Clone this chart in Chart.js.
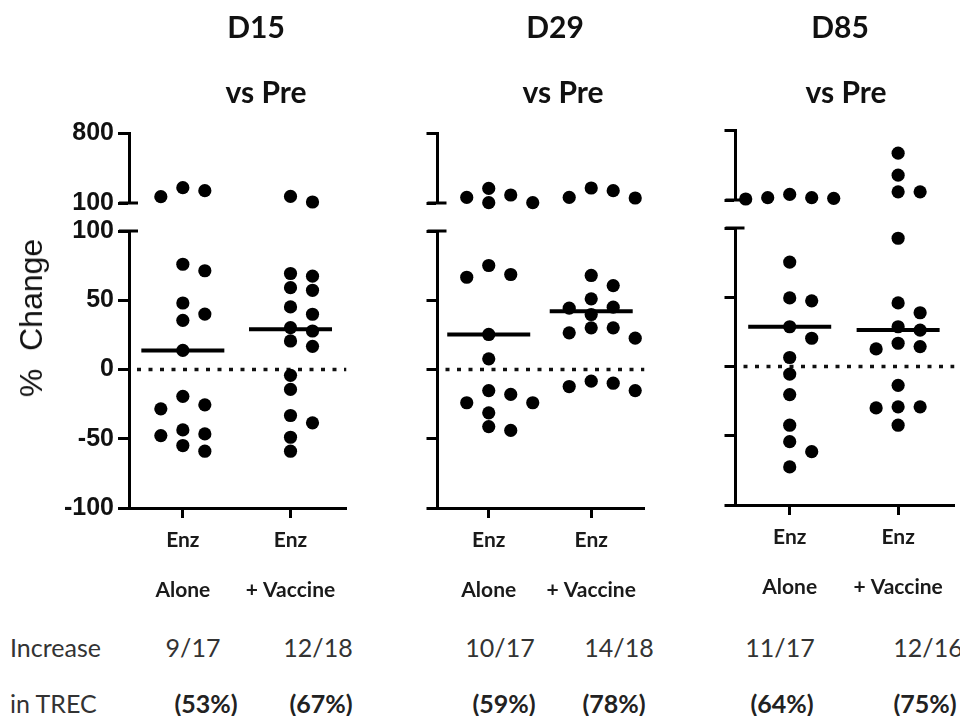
<!DOCTYPE html>
<html>
<head>
<meta charset="utf-8">
<script src="https://cdn.jsdelivr.net/npm/chart.js@4.4.1/dist/chart.umd.min.js"></script>
<style>
html,body{margin:0;padding:0;background:#fff;overflow:hidden;width:960px;height:716px;}
#wrap{position:relative;width:960px;height:716px;overflow:hidden;}
canvas.cv{position:absolute;}
.t{position:absolute;transform:translate(-50%,-50%);white-space:nowrap;font-family:Lato,'Open Sans',sans-serif;line-height:1;}
.title{font-weight:bold;font-size:30px;color:#111;}
.row{font-size:25px;color:#333;}
.rowb{font-size:25px;color:#222;font-weight:bold;}
.lab{position:absolute;white-space:nowrap;font-family:Lato,'Open Sans',sans-serif;font-size:25px;color:#333;transform:translateY(-50%);line-height:1;}
.ytitle{position:absolute;white-space:pre;font-family:'Liberation Sans',Arial,sans-serif;font-size:32px;color:#111;transform:translate(-50%,-50%) rotate(-90deg);line-height:1;}
</style>
</head>
<body>
<div id="wrap"></div>
<script>
// ---------------- data ----------------
const panels = ['D15', 'D29', 'D85'];
const panelSubtitle = 'vs Pre';
const groupLabels = [['Enz', 'Alone'], ['Enz', '+ Vaccine']];
const yAxisTitle = '%  Change';

const d15Alone   = [253, 223, 163, 76, 71.3, 48, 40, 35.5, 13.8, -19.4, -25.5, -28.4, -43.6, -46.5, -47.7, -54.9, -59];
const d15Vaccine = [166, 110, 69.3, 67.4, 59.1, 57.2, 45.2, 39.9, 30.2, 27.8, 20.6, 16.7, -4.2, -14.4, -33.2, -38.5, -48.9, -59];
const d29Alone   = [246, 180, 156, 103, 103, 75.1, 68.6, 66.6, 25.3, 7.7, -15.2, -18, -24, -24, -31.3, -41.2, -44];
const d29Vaccine = [250, 223, 156, 150, 67.9, 60.6, 51, 45, 44.3, 39.7, 30.1, 30.1, 26.5, 22.6, -8.4, -9.9, -12.3, -15.2];
const d85Alone   = [156, 123, 123, 117, 110, 75.4, 49.5, 47.4, 28.7, 20.4, 6.5, -5.5, -20.3, -42.4, -54.3, -61.5, -72.5];
const d85Vaccine = [568, 348, 182, 182, 92.6, 45.9, 38.8, 28.7, 26.3, 16.8, 14.4, 12.7, -13.6, -29.1, -29.9, -29.1, -42.4];

const d15Medians = [13.8, 29.0];
const d29Medians = [25.3, 42.0];
const d85Medians = [28.7, 26.3];

const lowerTicks = [-100, -50, 0, 50, 100];
const upperTicks = [100, 800];
const breakValue = 100;
const zeroValue = 0;

const increaseLabel = ['Increase', 'in TREC'];
const increaseCounts = ['9/17', '12/18', '10/17', '14/18', '11/17', '12/16'];
const increasePct = ['(53%)', '(67%)', '(59%)', '(78%)', '(64%)', '(75%)'];

const panelGroups = [[d15Alone, d15Vaccine], [d29Alone, d29Vaccine], [d85Alone, d85Vaccine]];
const panelMedians = [d15Medians, d29Medians, d85Medians];

// ---------------- layout ----------------
const GEO = [
  {left: 0,   top: 0,  width: 392, axisX: 129, padRight: 10.5, labels: true},
  {left: 392, top: 0,  width: 298, axisX: 425, padRight: 12.5, labels: false},
  {left: 690, top: -3, width: 310, axisX: 719, padRight: 28.5, labels: false}
];
const CANVAS_H = 620, AREA_TOP = 133, XAXIS_H = 112;
const X_MIN = 0.5, X_MAX = 2.52;
const DOT_R = 6.6, LANE_PX = 22, DOT_GAP = 12.5;
const LANE_ORDER = [0, 1, -1, 2, -2, 3, -3, 4, -4];
const titlePos = [[256, 26, 266, 91], [555, 26, 563, 91], [840, 26, 846, 91]];
const countX = [193, 318, 500, 619, 780, 928];
const pctX = [206, 321, 504, 614, 782, 925];

Chart.defaults.font.family = "'Liberation Sans', Arial, sans-serif";
Chart.defaults.color = '#111';

const wrap = document.getElementById('wrap');

const breakCaps = {
  id: 'breakCaps',
  afterDraw(chart) {
    const ctx = chart.ctx, a = chart.chartArea;
    const ys = [chart.scales.yTop.getPixelForValue(breakValue), chart.scales.y.getPixelForValue(chart.scales.y.max)];
    ctx.save();
    ctx.strokeStyle = '#000';
    ctx.lineWidth = 3;
    ys.forEach(py => {
      ctx.beginPath();
      ctx.moveTo(a.left - 10, py);
      ctx.lineTo(a.left + 9, py);
      ctx.stroke();
    });
    ctx.restore();
  }
};

function yScale(geo, extra) {
  return Object.assign({
    type: 'linear',
    position: 'left',
    stack: 'broken',
    afterFit: s => { s.width = geo.axisX - geo.left; },
    grid: {drawOnChartArea: false, drawTicks: true, tickLength: 11, tickWidth: 3, tickColor: '#000'},
    border: {display: true, color: '#000', width: 3},
    ticks: {display: geo.labels, color: '#111', padding: 4, font: {size: 25, weight: 'bold'}, callback: v => String(v)}
  }, extra);
}

function makePanel(p) {
  const geo = GEO[p];
  const canvas = document.createElement('canvas');
  canvas.className = 'cv';
  canvas.width = geo.width;
  canvas.height = CANVAS_H;
  canvas.style.left = geo.left + 'px';
  canvas.style.top = geo.top + 'px';
  canvas.style.width = geo.width + 'px';
  canvas.style.height = CANVAS_H + 'px';
  wrap.appendChild(canvas);

  const datasets = [];
  const swarmSets = [];
  panelGroups[p].forEach((vals, g) => {
    const center = g + 1;
    [['yTop', vals.filter(v => v > breakValue)], ['y', vals.filter(v => v <= breakValue)]].forEach(([axis, vs]) => {
      const ds = {
        data: vs.map(v => ({x: center, y: v})),
        yAxisID: axis,
        clip: false,
        pointRadius: DOT_R,
        pointHoverRadius: DOT_R,
        pointBackgroundColor: '#000',
        pointBorderWidth: 0,
        pointBorderColor: '#000'
      };
      datasets.push(ds);
      swarmSets.push({ds, center});
    });
  });
  panelMedians[p].forEach((m, g) => {
    datasets.push({
      data: [{x: g + 1, y: m}],
      yAxisID: 'y',
      clip: false,
      pointStyle: 'line',
      pointRadius: 41.5,
      pointHoverRadius: 41.5,
      pointBorderWidth: 4,
      pointHoverBorderWidth: 4,
      pointBorderColor: '#000',
      pointBackgroundColor: '#000'
    });
  });
  datasets.push({
    type: 'line',
    data: [{x: X_MIN, y: zeroValue}, {x: X_MAX, y: zeroValue}],
    yAxisID: 'y',
    borderColor: '#111',
    borderWidth: 3.5,
    borderDash: [4, 7.5],
    borderDashOffset: 3.5,
    pointRadius: 0,
    fill: false
  });

  const chart = new Chart(canvas, {
    type: 'scatter',
    data: {datasets},
    plugins: [breakCaps],
    options: {
      responsive: false,
      animation: false,
      devicePixelRatio: 1,
      events: [],
      layout: {padding: {top: AREA_TOP, left: 0, right: geo.padRight, bottom: 0}},
      plugins: {legend: {display: false}, tooltip: {enabled: false}},
      scales: {
        x: {
          type: 'linear',
          position: 'bottom',
          min: X_MIN,
          max: X_MAX,
          afterBuildTicks: s => { s.ticks = groupLabels.map((_, i) => ({value: i + 1})); },
          afterFit: s => { s.height = XAXIS_H; },
          grid: {drawOnChartArea: false, drawTicks: true, tickLength: 10, tickWidth: 3, tickColor: '#000'},
          border: {display: true, color: '#000', width: 3},
          ticks: {
            color: '#1a1a1a',
            padding: -3,
            maxRotation: 0,
            autoSkip: false,
            font: {family: "Lato, 'Open Sans', sans-serif", size: 21, weight: 'bold', lineHeight: '50px'},
            callback: v => groupLabels[Math.round(v) - 1] || ''
          }
        },
        yTop: yScale(geo, {
          weight: 3, stackWeight: 70, min: upperTicks[0], max: upperTicks[upperTicks.length - 1],
          afterBuildTicks: s => { s.ticks = upperTicks.map(v => ({value: v})); }
        }),
        yGap: {
          type: 'linear', position: 'left', stack: 'broken', weight: 2, stackWeight: 28,
          min: 0, max: 1, display: true,
          afterFit: s => { s.width = geo.axisX - geo.left; },
          grid: {display: false, drawTicks: false}, border: {display: false}, ticks: {display: false}
        },
        y: yScale(geo, {
          weight: 1, stackWeight: 277, min: lowerTicks[0], max: lowerTicks[lowerTicks.length - 1],
          afterBuildTicks: s => { s.ticks = lowerTicks.map(v => ({value: v})); }
        })
      }
    }
  });

  // spread tied dots sideways (dot-plot layout), computed from the library's own scales
  const xs = chart.scales.x;
  const unit = xs.getPixelForValue(1) - xs.getPixelForValue(0);
  swarmSets.forEach(({ds, center}) => {
    const ys = chart.scales[ds.yAxisID];
    const pts = ds.data.map((d, i) => ({i, py: ys.getPixelForValue(d.y)})).sort((a, b) => a.py - b.py);
    const placed = [];
    pts.forEach(pt => {
      for (const lane of LANE_ORDER) {
        if (!placed.some(q => q.lane === lane && Math.abs(q.py - pt.py) < DOT_GAP)) {
          pt.lane = lane; placed.push(pt); break;
        }
      }
    });
    pts.forEach(pt => { ds.data[pt.i].x = center + pt.lane * LANE_PX / unit; });
  });
  chart.update('none');
}

panels.forEach((_, p) => makePanel(p));

// ---------------- text ----------------
function addText(cls, text, x, y) {
  const d = document.createElement('div');
  d.className = cls;
  d.textContent = text;
  d.style.left = x + 'px';
  d.style.top = y + 'px';
  wrap.appendChild(d);
  return d;
}
panels.forEach((name, p) => {
  const t = titlePos[p];
  addText('t title', name, t[0], t[1]);
  addText('t title', panelSubtitle, t[2], t[3]);
});
addText('ytitle', yAxisTitle, 31, 318);
addText('lab', increaseLabel[0], 10, 647);
addText('lab', increaseLabel[1], 10, 703);
increaseCounts.forEach((c, i) => addText('t row', c, countX[i], 647));
increasePct.forEach((c, i) => addText('t rowb', c, pctX[i], 703));
</script>
</body>
</html>
